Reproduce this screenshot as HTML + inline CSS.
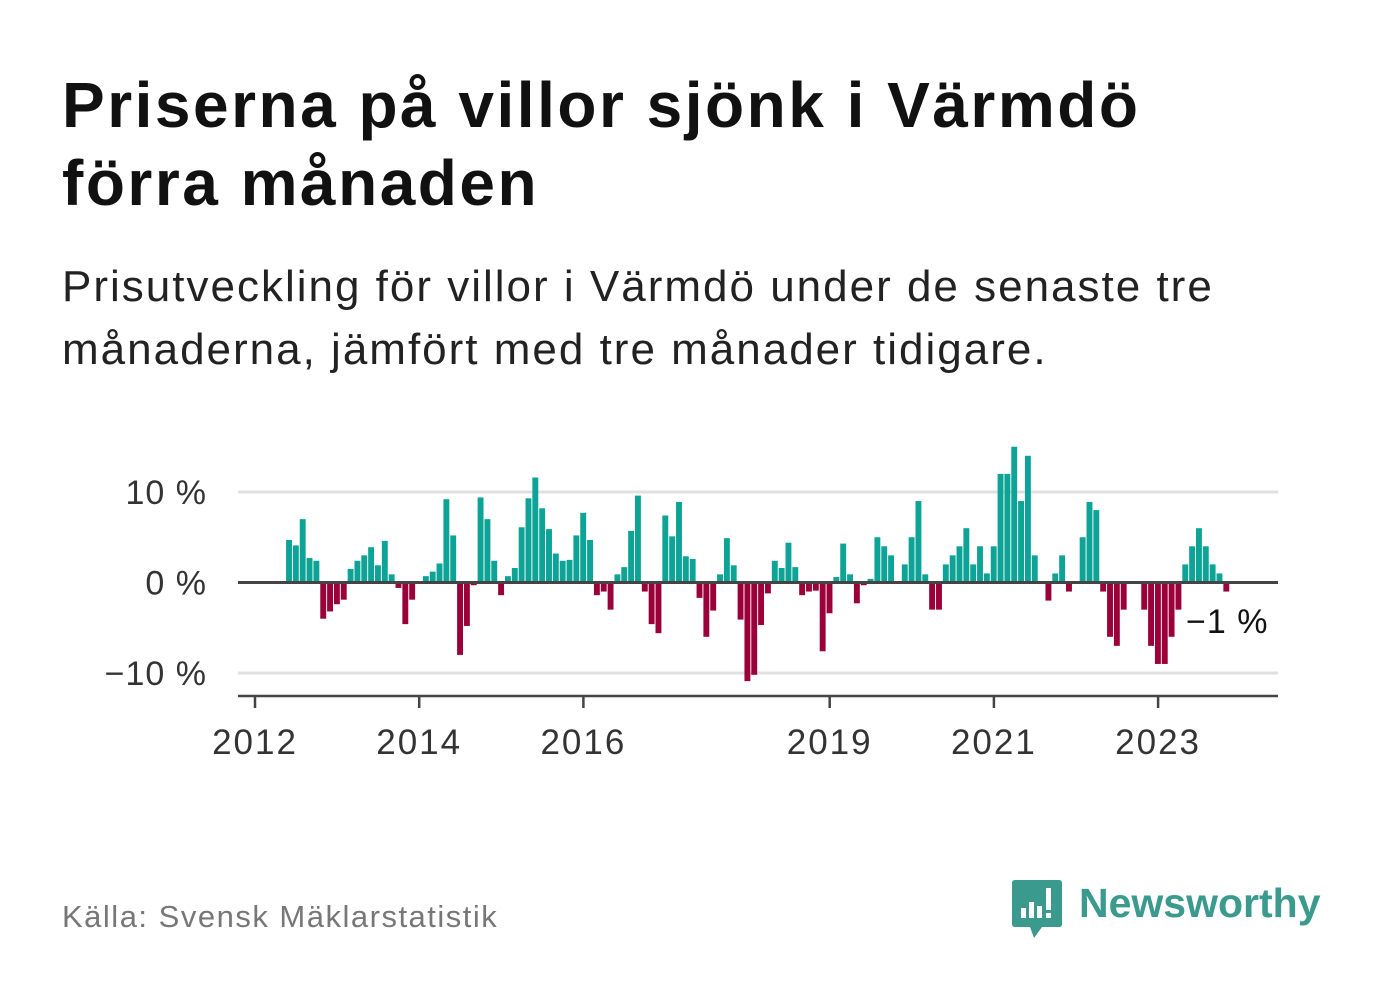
<!DOCTYPE html>
<html><head><meta charset="utf-8">
<style>
body{margin:0;background:#fff;width:1382px;height:999px;overflow:hidden;font-family:"Liberation Sans","DejaVu Sans",sans-serif;}
.t{position:absolute;left:62px;color:#111;white-space:nowrap;}
</style></head><body>
<div class="t" style="top:66px;font-size:64px;letter-spacing:2.5px;font-weight:bold;line-height:78px;">Priserna på villor sjönk i Värmdö<br>förra månaden</div>
<div class="t" style="top:255px;font-size:44px;letter-spacing:2px;line-height:63px;color:#222;">Prisutveckling för villor i Värmdö under de senaste tre<br>månaderna, jämfört med tre månader tidigare.</div>
<svg id="chart" width="1382" height="999" style="position:absolute;left:0;top:0" xmlns="http://www.w3.org/2000/svg"></svg>
<div class="t" style="top:899px;font-size:31px;letter-spacing:1.5px;color:#777;">Källa: Svensk Mäklarstatistik</div>
<div style="position:absolute;left:1012px;top:880px;">
<svg width="50" height="60"><path d="M3 0H47Q50 0 50 3V44Q50 47 47 47H30L22 58L18 47H3Q0 47 0 44V3Q0 0 3 0Z" fill="#3a9a8e"/><rect x="9" y="28" width="5" height="10" fill="#fff"/><rect x="17" y="22" width="5" height="16" fill="#fff"/><rect x="25" y="26" width="5" height="12" fill="#fff"/><rect x="34" y="8" width="5" height="22" fill="#fff"/><rect x="34" y="33" width="5" height="5" fill="#fff"/></svg>
<span style="position:absolute;left:67px;top:0px;font-size:41px;font-weight:bold;color:#3a9a8e;white-space:nowrap;">Newsworthy</span>
</div>
<script>
const values=[4.7,4.1,7.0,2.7,2.4,-4.0,-3.2,-2.4,-1.9,1.5,2.4,3.0,3.9,1.9,4.6,0.9,-0.6,-4.6,-1.9,0,0.7,1.2,2.1,9.2,5.2,-8.0,-4.8,-0.3,9.4,7.0,2.4,-1.4,0.7,1.6,6.1,9.3,11.6,8.2,5.9,3.2,2.4,2.5,5.2,7.7,4.7,-1.4,-1.0,-3.0,0.9,1.7,5.7,9.6,-1.0,-4.6,-5.6,7.4,5.1,8.9,2.9,2.6,-1.7,-6.0,-3.1,0.9,4.9,1.9,-4.1,-10.9,-10.2,-4.7,-1.2,2.4,1.6,4.4,1.7,-1.4,-1.0,-0.9,-7.6,-3.4,0.6,4.3,0.9,-2.3,-0.3,0.4,5.0,4.0,3.0,0,2.0,5.0,9.0,0.9,-3.0,-3.0,2.0,3.0,4.0,6.0,2.0,4.0,1.0,4.0,12.0,12.0,15.0,9.0,14.0,3.0,0,-2.0,1.0,3.0,-1.0,0,5.0,8.9,8.0,-1.0,-6.0,-7.0,-3.0,0,0,-3.0,-7.0,-9.0,-9.0,-6.0,-3.0,2.0,4.0,6.0,4.0,2.0,1.0,-1.0];
const firstMonth=4; // May 2012, months since Jan 2012
const yTicks=[10,0,-10];
const yTickLabels=["10 %","0 %","−10 %"];
const xTicks=[2012,2014,2016,2019,2021,2023];
const lastLabel="−1 %";
const NS="http://www.w3.org/2000/svg";
const svg=document.getElementById('chart');
const x0=238,x1=1278,yearPx=82.1,mPx=yearPx/12;
const xm=m=>255+m*mPx;
const xy=yr=>255+(yr-2012)*yearPx;
const y=v=>582.5-v*9.05;
function mk(tag,a){const e=document.createElementNS(NS,tag);for(const k in a)e.setAttribute(k,a[k]);svg.appendChild(e);return e;}
yTicks.forEach((t,i)=>{
 if(t!==0){const g=mk('line',{x1:x0,x2:x1,y1:y(t),y2:y(t),stroke:'#e0e0e0','stroke-width':3});
 
 }
 const l=mk('text',{x:207,y:y(t)+12,'text-anchor':'end','font-size':34,'letter-spacing':1,fill:'#333'});l.textContent=yTickLabels[i];
 
 
});
values.forEach((v,i)=>{
 if(v===0)return;
 const m=firstMonth+i;
 const r=mk('rect',{x:xm(m+0.54),width:5.9,y:v>0?y(v):y(0),height:Math.abs(y(v)-y(0)),fill:v>0?'#0ea397':'#9b0038'});
 
 
});
const z=mk('line',{x1:x0,x2:x1,y1:y(0),y2:y(0),stroke:'#444','stroke-width':3});


const ax=mk('line',{x1:x0,x2:x1,y1:696,y2:696,stroke:'#444','stroke-width':2.5});


xTicks.forEach(t=>{
 const tk=mk('line',{x1:xy(t),x2:xy(t),y1:696,y2:708,stroke:'#444','stroke-width':2.5});
 
 
 const l=mk('text',{x:xy(t),y:754,'text-anchor':'middle','font-size':35,'letter-spacing':2,fill:'#333'});l.textContent=t;
 
 
});
const ll=mk('text',{x:1186,y:633,'font-size':34,'letter-spacing':1,fill:'#111'});ll.textContent=lastLabel;


</script>
</body></html>
